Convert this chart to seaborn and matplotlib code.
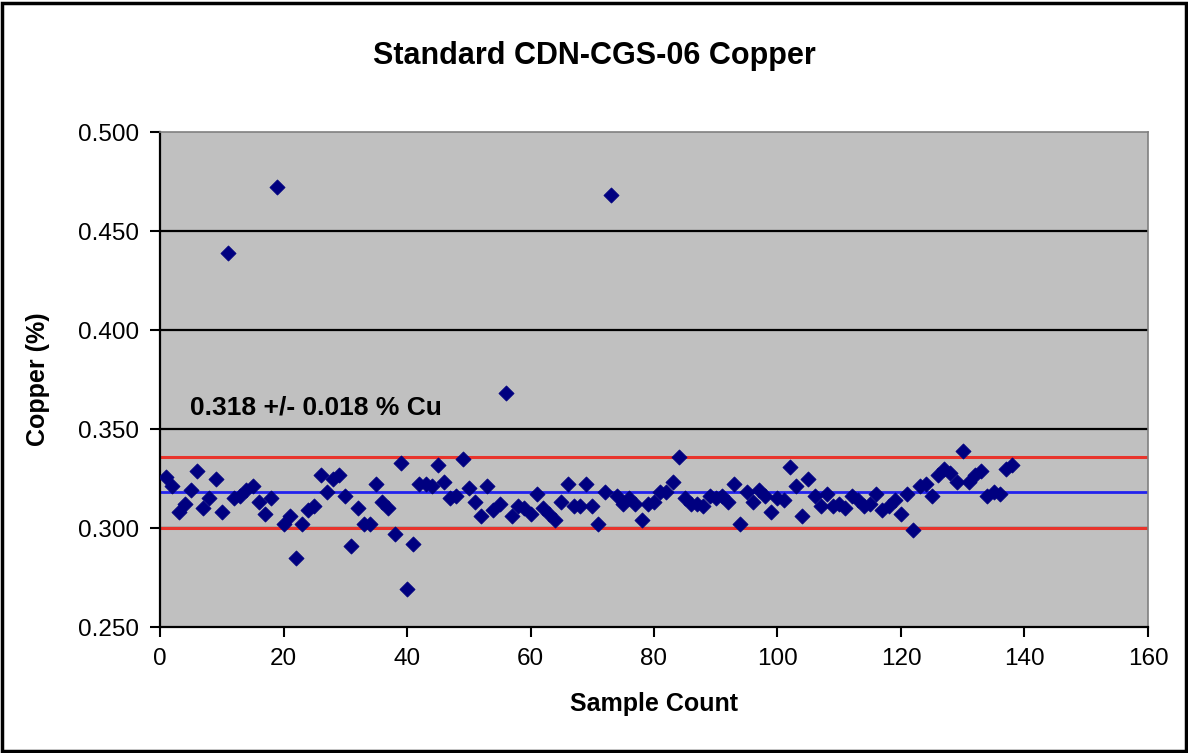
import numpy as np
import pandas as pd
import matplotlib.pyplot as plt
import seaborn as sns
from matplotlib.patches import Rectangle

# Copper assays of standard CDN-CGS-06, in sample order
copper = [
    0.326, 0.321, 0.308, 0.312, 0.319, 0.329, 0.310, 0.315, 0.325, 0.308,
    0.439, 0.315, 0.316, 0.319, 0.321, 0.313, 0.307, 0.315, 0.472, 0.302,
    0.306, 0.285, 0.302, 0.309, 0.311, 0.327, 0.318, 0.325, 0.327, 0.316,
    0.291, 0.310, 0.302, 0.302, 0.322, 0.313, 0.310, 0.297, 0.333, 0.269,
    0.292, 0.322, 0.322, 0.321, 0.332, 0.323, 0.315, 0.316, 0.335, 0.320,
    0.313, 0.306, 0.321, 0.309, 0.312, 0.368, 0.306, 0.311, 0.310, 0.307,
    0.317, 0.310, 0.307, 0.304, 0.313, 0.322, 0.311, 0.311, 0.322, 0.311,
    0.302, 0.318, 0.468, 0.316, 0.312, 0.315, 0.312, 0.304, 0.312, 0.313,
    0.318, 0.318, 0.323, 0.336, 0.315, 0.312, 0.312, 0.311, 0.316, 0.315,
    0.316, 0.313, 0.322, 0.302, 0.318, 0.313, 0.319, 0.316, 0.308, 0.315,
    0.314, 0.331, 0.321, 0.306, 0.325, 0.316, 0.311, 0.317, 0.311, 0.312,
    0.310, 0.316, 0.314, 0.311, 0.312, 0.317, 0.309, 0.311, 0.314, 0.307,
    0.317, 0.299, 0.321, 0.322, 0.316, 0.327, 0.330, 0.328, 0.323, 0.339,
    0.323, 0.327, 0.329, 0.316, 0.318, 0.317, 0.330, 0.332,
]
sample_count = np.arange(1, len(copper) + 1)

# certified value and tolerance
cert_value = 0.318
tolerance = 0.018

x_ticks = [0, 20, 40, 60, 80, 100, 120, 140, 160]
y_ticks = [0.250, 0.300, 0.350, 0.400, 0.450, 0.500]

df = pd.DataFrame({'Sample': sample_count, 'Copper': copper})

sns.set_theme(style='white')
plt.rcParams['font.family'] = ['Liberation Sans', 'DejaVu Sans']
plt.rcParams['text.color'] = 'black'
plt.rcParams['axes.labelcolor'] = 'black'
plt.rcParams['xtick.color'] = 'black'
plt.rcParams['ytick.color'] = 'black'

fig = plt.figure(figsize=(11.88, 7.53), dpi=100)
ax = fig.add_axes([0.1347, 0.1673, 0.8316, 0.6574])
ax.set_facecolor('#C0C0C0')

# black grid lines
for yv in y_ticks[1:-1]:
    ax.axhline(yv, color='black', lw=1.6, zorder=1)

ax.axhline(cert_value + tolerance, color='#E8342C', lw=2.2, zorder=2)
ax.axhline(cert_value, color='#2222EE', lw=2.0, zorder=2)
ax.axhline(cert_value - tolerance, color='#E8342C', lw=2.2, zorder=2)

sns.scatterplot(data=df, x='Sample', y='Copper', marker='D', s=60,
                color='#000080', edgecolor='#000080', linewidth=0.5,
                ax=ax, zorder=3)

ax.set_xlim(0, 160)
ax.set_ylim(0.25, 0.50)
ax.set_xticks(x_ticks)
ax.set_yticks(y_ticks)
ax.set_yticklabels([f'{v:.3f}' for v in y_ticks])
ax.tick_params(axis='both', direction='out', length=7, width=1.5,
               color='black', labelcolor='black', labelsize=17.5, pad=8,
               left=True, bottom=True)

for side in ['top', 'right']:
    ax.spines[side].set_color('#808080')
    ax.spines[side].set_linewidth(1.2)
for side in ['left', 'bottom']:
    ax.spines[side].set_color('black')
    ax.spines[side].set_linewidth(1.6)

ax.set_xlabel('Sample Count', fontsize=18, fontweight='bold', labelpad=16)
ax.set_ylabel('Copper (%)', fontsize=18, fontweight='bold', labelpad=20)

ax.text(4.8, 0.361, f'{cert_value:.3f} +/- {tolerance:.3f} % Cu',
        fontsize=19, fontweight='bold', va='center', ha='left', zorder=4)

fig.text(0.5, 0.925, 'Standard CDN-CGS-06 Copper', ha='center', va='center',
         fontsize=22, fontweight='bold')

# chart border
fig.patches.append(Rectangle((0.002, 0.002), 0.996, 0.994, transform=fig.transFigure,
                             fill=False, edgecolor='black', linewidth=2.5))

plt.savefig('out.png', dpi=100)
plt.close()
